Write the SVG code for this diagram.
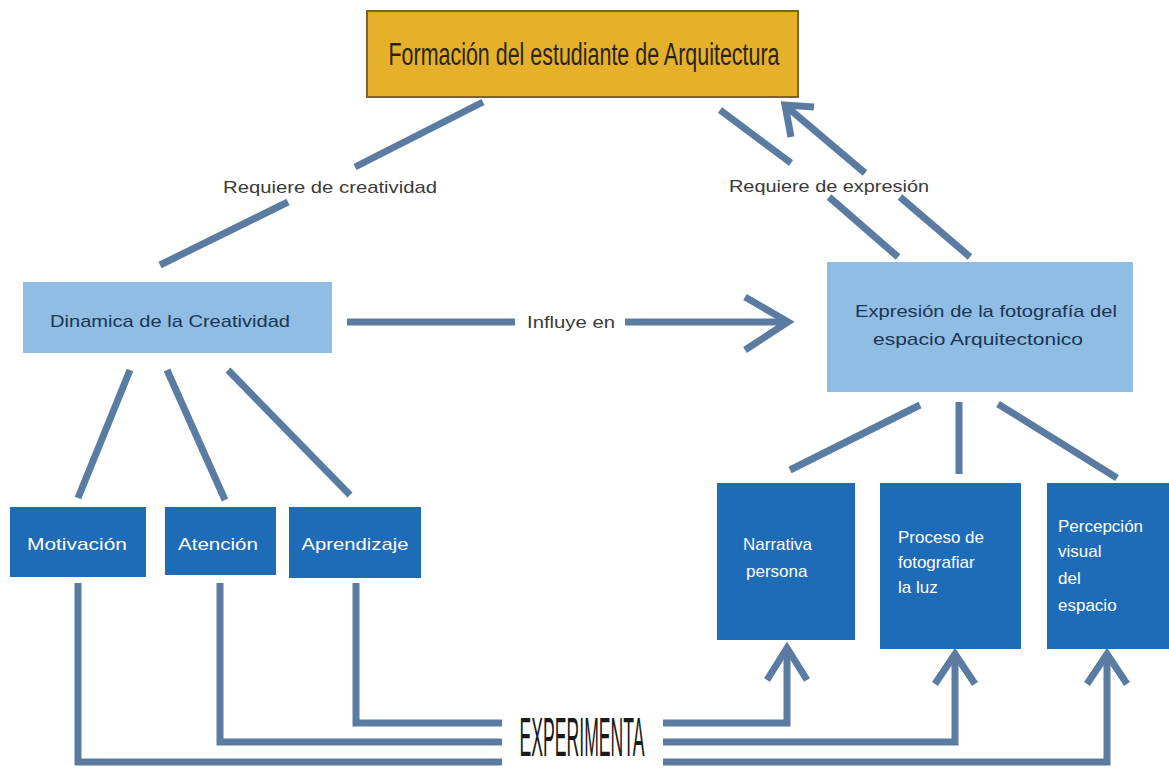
<svg xmlns="http://www.w3.org/2000/svg" width="1169" height="768" viewBox="0 0 1169 768">
<style>
.c{fill:none;stroke:#5b7ca2;stroke-width:7;stroke-linecap:butt;stroke-linejoin:miter}
.t{font-family:"Liberation Sans",Arial,sans-serif}
.lbl{font-size:17px;fill:#3a3a3a}
.lb{fill:#8fbde3}
.db{fill:#1e6bb8}
.dk{font-size:17px;fill:#1b3553}
.wt{font-size:17px;fill:#ffffff}
</style>
<rect width="1169" height="768" fill="#ffffff"/>
<g id="connectors">
<line class="c" x1="483" y1="102" x2="355" y2="167"/>
<line class="c" x1="288" y1="202" x2="160" y2="265"/>
<text class="t lbl" x="330" y="193" text-anchor="middle" textLength="214" lengthAdjust="spacingAndGlyphs">Requiere de creatividad</text>
<line class="c" x1="720" y1="110" x2="791" y2="163"/>
<line class="c" x1="829" y1="197" x2="898" y2="257"/>
<line class="c" x1="787" y1="107" x2="865" y2="173"/>
<line class="c" x1="900" y1="197" x2="970" y2="257"/>
<polyline class="c" points="814,107 785,105 791,137"/>
<text class="t lbl" x="829" y="192" text-anchor="middle" textLength="200" lengthAdjust="spacingAndGlyphs">Requiere de expresión</text>
<line class="c" x1="347" y1="322" x2="515" y2="322"/>
<line class="c" x1="625" y1="322" x2="788" y2="322"/>
<polyline class="c" points="745,297 788,322 745,350"/>
<text class="t lbl" x="571" y="328" text-anchor="middle" textLength="88" lengthAdjust="spacingAndGlyphs">Influye en</text>
<line class="c" x1="130" y1="370" x2="78" y2="498"/>
<line class="c" x1="167" y1="370" x2="225" y2="500"/>
<line class="c" x1="228" y1="370" x2="350" y2="495"/>
<line class="c" x1="920" y1="405" x2="790" y2="470"/>
<line class="c" x1="959" y1="402" x2="959" y2="474"/>
<line class="c" x1="998" y1="404" x2="1117" y2="478"/>
<polyline class="c" points="78,583 78,762 502,762"/>
<polyline class="c" points="220,583 220,742 502,742"/>
<polyline class="c" points="356,583 356,723 502,723"/>
<polyline class="c" points="663,762 1107,762 1107,656"/>
<polyline class="c" points="663,742 955,742 955,656"/>
<polyline class="c" points="663,723 787,723 787,648"/>
<polyline class="c" points="767,680 787,648 807,680"/>
<polyline class="c" points="935,684 955,654 975,684"/>
<polyline class="c" points="1087,684 1107,654 1127,684"/>
<text class="t" x="582" y="756" text-anchor="middle" font-size="56" fill="#1a1a1a" textLength="125" lengthAdjust="spacingAndGlyphs">EXPERIMENTA</text>
</g>
<g id="formacion">
<rect x="367" y="11" width="431" height="86" fill="#e6b12a" stroke="#7d6230" stroke-width="2"/>
<text class="t" x="584" y="65" text-anchor="middle" font-size="31" fill="#2a2418" textLength="391" lengthAdjust="spacingAndGlyphs">Formación del estudiante de Arquitectura</text>
</g>
<g id="dinamica">
<rect class="lb" x="23" y="282" width="309" height="71"/>
<text class="t dk" x="170" y="327" text-anchor="middle" textLength="240" lengthAdjust="spacingAndGlyphs">Dinamica de la Creatividad</text>
</g>
<g id="expresion">
<rect class="lb" x="827" y="262" width="306" height="130"/>
<text class="t dk" x="986" y="317" text-anchor="middle" textLength="262" lengthAdjust="spacingAndGlyphs">Expresión de la fotografía del</text>
<text class="t dk" x="978" y="345" text-anchor="middle" textLength="210" lengthAdjust="spacingAndGlyphs">espacio Arquitectonico</text>
</g>
<g id="motivacion">
<rect class="db" x="10" y="507" width="136" height="70"/>
<text class="t wt" x="77" y="550" text-anchor="middle" textLength="100" lengthAdjust="spacingAndGlyphs">Motivación</text>
</g>
<g id="atencion">
<rect class="db" x="165" y="507" width="111" height="68"/>
<text class="t wt" x="218" y="550" text-anchor="middle" textLength="80" lengthAdjust="spacingAndGlyphs">Atención</text>
</g>
<g id="aprendizaje">
<rect class="db" x="289" y="507" width="132" height="71"/>
<text class="t wt" x="355" y="550" text-anchor="middle" textLength="107" lengthAdjust="spacingAndGlyphs">Aprendizaje</text>
</g>
<g id="narrativa">
<rect class="db" x="717" y="483" width="138" height="157"/>
<text class="t wt" x="743" y="550">Narrativa</text>
<text class="t wt" x="746" y="577">persona</text>
</g>
<g id="proceso">
<rect class="db" x="880" y="483" width="141" height="166"/>
<text class="t wt" x="898" y="543">Proceso de</text>
<text class="t wt" x="898" y="568">fotografiar</text>
<text class="t wt" x="898" y="593">la luz</text>
</g>
<g id="percepcion">
<rect class="db" x="1047" y="483" width="122" height="166"/>
<text class="t wt" x="1058" y="532">Percepción</text>
<text class="t wt" x="1058" y="557">visual</text>
<text class="t wt" x="1058" y="584">del</text>
<text class="t wt" x="1058" y="611">espacio</text>
</g>
</svg>
